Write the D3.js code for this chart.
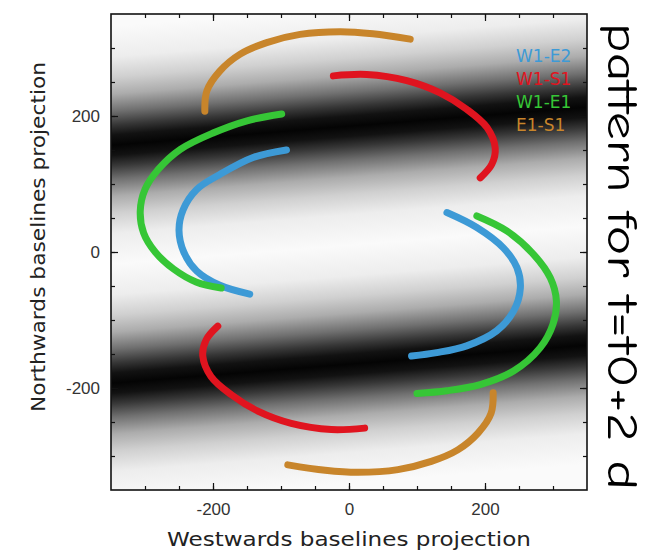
<!DOCTYPE html>
<html>
<head>
<meta charset="utf-8">
<script src="https://cdn.jsdelivr.net/npm/d3@7"></script>
<style>
  body { margin: 0; background: #fff; }
  svg { display: block; font-family: "DejaVu Sans", sans-serif; }
</style>
</head>
<body>
<svg id="chart" width="645" height="554"></svg>
<script>
const width = 645;
const height = 554;

// axis ticks
const majorTicks = [-200, 0, 200];
const minorTicks = [-300, -250, -200, -150, -100, -50, 0, 50, 100, 150, 200, 250, 300];

// uv tracks, [u, v]
const w1e2Upper = [[-92, 150], [-141, 139], [-190, 114], [-224, 92], [-244, 62], [-250, 32], [-243, 0], [-224, -28], [-190, -49], [-146, -62]];
const w1e2Lower = [[144, 58], [188, 36], [227, 6], [247, -23], [252, -53], [242, -87], [217, -116], [173, -138], [129, -148], [92, -153]];
const w1s1Upper = [[-23, 259], [26, 261], [85, 252], [134, 234], [173, 210], [203, 183], [215, 153], [210, 129], [193, 109]];
const w1s1Lower = [[23, -259], [-26, -261], [-85, -252], [-134, -234], [-173, -210], [-203, -183], [-215, -153], [-210, -129], [-193, -109]];
const w1e1Upper = [[-99, 203], [-150, 193], [-200, 175], [-248, 151], [-280, 122], [-300, 92], [-307, 60], [-302, 28], [-285, 0], [-258, -25], [-225, -44], [-188, -53]];
const w1e1Lower = [[188, 53], [232, 31], [271, -3], [296, -38], [305, -72], [300, -106], [281, -141], [242, -175], [193, -195], [144, -204], [100, -208]];
const e1s1Upper = [[-212, 207], [-209, 237], [-190, 266], [-160, 291], [-121, 308], [-72, 320], [-13, 324], [35, 321], [90, 313]];
const e1s1Lower = [[212, -207], [209, -237], [190, -266], [160, -291], [121, -308], [72, -320], [13, -324], [-35, -321], [-90, -313]];

const baselineNames = ['W1-E2', 'W1-S1', 'W1-E1', 'E1-S1'];
const baselineColors = ['#3d9ad6', '#e0141f', '#36c636', '#c8852b'];
const tracks = [
    { name: 'W1-E2', arcs: [w1e2Upper, w1e2Lower] },
    { name: 'W1-S1', arcs: [w1s1Upper, w1s1Lower] },
    { name: 'W1-E1', arcs: [w1e1Upper, w1e1Lower] },
    { name: 'E1-S1', arcs: [e1s1Upper, e1s1Lower] }];

// fringe background: [v at u = 0, grey level], and the tilt of the stripes (dv/du)
const fringeStops = [[360, 250], [315, 237], [285, 208], [260, 172], [235, 112], [215, 55], [200, 18], [185, 4],
    [170, 18], [155, 55], [135, 112], [110, 172], [85, 208], [55, 237], [10, 250], [-35, 237], [-65, 208],
    [-90, 172], [-115, 112], [-135, 55], [-150, 18], [-165, 4], [-180, 18], [-195, 55], [-215, 112],
    [-240, 172], [-265, 208], [-295, 237], [-340, 250]];
const fringeTilt = 0.08;

const plotLeft = 111, plotTop = 14, plotSize = 476;

const x = d3.scaleLinear().domain([-350, 350]).range([plotLeft, plotLeft + plotSize]);
const y = d3.scaleLinear().domain([-350, 350]).range([plotTop + plotSize, plotTop]);
const colorScale = d3.scaleOrdinal().domain(baselineNames).range(baselineColors);

const svg = d3.select('#chart');
const defs = svg.append('defs');

defs.append('clipPath').attr('id', 'plotClip')
    .append('rect')
    .attr('x', plotLeft).attr('y', plotTop)
    .attr('width', plotSize).attr('height', plotSize);

// stripes run along (1, -tilt) in pixels, so the gradient runs along (tilt, 1)
const gx1 = x(0), gy1 = y(400);
const gH = y(-400) - y(400);
const gx2 = gx1 + fringeTilt * gH, gy2 = gy1 + gH;
const grad = defs.append('linearGradient')
    .attr('id', 'fringe')
    .attr('gradientUnits', 'userSpaceOnUse')
    .attr('x1', gx1).attr('y1', gy1)
    .attr('x2', gx2).attr('y2', gy2);

grad.selectAll('stop')
    .data(fringeStops)
    .enter()
    .append('stop')
    .attr('offset', d => (y(d[0]) - gy1) / (gH * (1 + fringeTilt * fringeTilt)))
    .attr('stop-color', d => d3.rgb(d[1], d[1], d[1]).formatHex());

svg.append('rect')
    .attr('x', plotLeft).attr('y', plotTop)
    .attr('width', plotSize).attr('height', plotSize)
    .attr('fill', 'url(#fringe)');

// tracks
const line = d3.line()
    .x(d => x(d[0]))
    .y(d => y(d[1]))
    .curve(d3.curveCatmullRom);

const trackG = svg.append('g').attr('clip-path', 'url(#plotClip)');
tracks.forEach(t => {
    trackG.selectAll(null)
        .data(t.arcs)
        .enter()
        .append('path')
        .attr('d', line)
        .attr('fill', 'none')
        .attr('stroke', colorScale(t.name))
        .attr('stroke-width', 7)
        .attr('stroke-linecap', 'round');
});

// axes, ticks pointing inwards on all four sides
function styleAxis(g) {
    g.select('.domain').remove();
    g.selectAll('line').attr('stroke', '#111').attr('stroke-width', 1.2);
    g.selectAll('text').attr('fill', '#333').attr('font-size', 17);
}
const plainFormat = d => String(d);

svg.append('g').attr('transform', `translate(0,${plotTop + plotSize})`)
    .call(d3.axisBottom(x).tickValues(minorTicks).tickSize(-4).tickFormat(''))
    .call(styleAxis);
svg.append('g').attr('transform', `translate(0,${plotTop + plotSize})`)
    .call(d3.axisBottom(x).tickValues(majorTicks).tickSize(-7).tickPadding(13).tickFormat(plainFormat))
    .call(styleAxis);
svg.append('g').attr('transform', `translate(0,${plotTop})`)
    .call(d3.axisTop(x).tickValues(minorTicks).tickSize(-4).tickFormat(''))
    .call(styleAxis);
svg.append('g').attr('transform', `translate(0,${plotTop})`)
    .call(d3.axisTop(x).tickValues(majorTicks).tickSize(-7).tickFormat(''))
    .call(styleAxis);

svg.append('g').attr('transform', `translate(${plotLeft},0)`)
    .call(d3.axisLeft(y).tickValues(minorTicks).tickSize(-4).tickFormat(''))
    .call(styleAxis);
svg.append('g').attr('transform', `translate(${plotLeft},0)`)
    .call(d3.axisLeft(y).tickValues(majorTicks).tickSize(-7).tickPadding(11).tickFormat(plainFormat))
    .call(styleAxis);
svg.append('g').attr('transform', `translate(${plotLeft + plotSize},0)`)
    .call(d3.axisRight(y).tickValues(minorTicks).tickSize(-4).tickFormat(''))
    .call(styleAxis);
svg.append('g').attr('transform', `translate(${plotLeft + plotSize},0)`)
    .call(d3.axisRight(y).tickValues(majorTicks).tickSize(-7).tickFormat(''))
    .call(styleAxis);

svg.append('rect')
    .attr('x', plotLeft).attr('y', plotTop)
    .attr('width', plotSize).attr('height', plotSize)
    .attr('fill', 'none')
    .attr('stroke', '#111')
    .attr('stroke-width', 1.6);

// axis titles
svg.append('text')
    .attr('x', plotLeft + plotSize / 2).attr('y', 546)
    .attr('text-anchor', 'middle')
    .attr('font-size', 20)
    .attr('fill', '#222')
    .attr('textLength', 364)
    .attr('lengthAdjust', 'spacingAndGlyphs')
    .text('Westwards baselines projection');

svg.append('text')
    .attr('transform', 'translate(45,237) rotate(-90)')
    .attr('text-anchor', 'middle')
    .attr('font-size', 20)
    .attr('fill', '#222')
    .attr('textLength', 350)
    .attr('lengthAdjust', 'spacingAndGlyphs')
    .text('Northwards baselines projection');

// legend
const legendY = [62, 85, 108, 131];
svg.selectAll('.legend')
    .data(baselineNames)
    .enter()
    .append('text')
    .attr('class', 'legend')
    .attr('x', 516)
    .attr('y', (d, i) => legendY[i])
    .attr('font-size', 17)
    .attr('fill', d => colorScale(d))
    .text(d => d);

// handwritten note on the right
svg.append('text')
    .attr('transform', 'translate(608,23) rotate(90)')
    .attr('font-family', '"Comic Sans MS", "Comic Neue", cursive')
    .attr('font-size', 42)
    .attr('fill', '#000')
    .attr('textLength', 467)
    .attr('lengthAdjust', 'spacingAndGlyphs')
    .text('pattern for t=t0+2 d');
</script>
</body>
</html>
